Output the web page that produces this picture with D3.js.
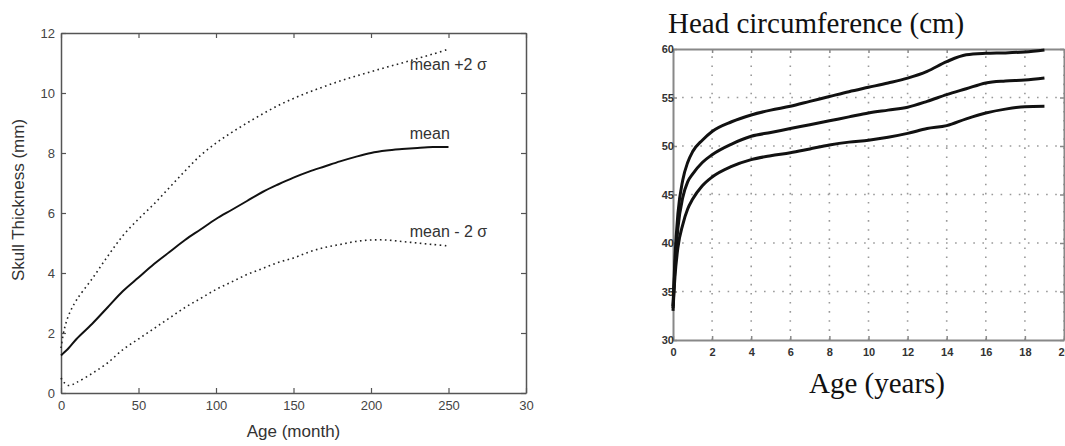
<!DOCTYPE html>
<html>
<head>
<meta charset="utf-8">
<script src="https://cdn.jsdelivr.net/npm/d3@7"></script>
<style>
  body { margin: 0; background: #fff; }
  svg { display: block; }
</style>
</head>
<body>
<div id="chart"></div>
<script>
var width = 1065;
var height = 446;

// skull thickness (left panel), age in months
var ageMonths = [0, 2, 5, 10, 20, 30, 40, 50, 60, 70, 80, 90, 100, 110, 120, 130, 140, 150, 160, 170, 180, 190, 200, 210, 220, 230, 240, 250];
var skullMean = [1.25, 1.35, 1.5, 1.8, 2.3, 2.85, 3.4, 3.85, 4.3, 4.7, 5.1, 5.45, 5.8, 6.1, 6.4, 6.7, 6.95, 7.18, 7.38, 7.55, 7.72, 7.87, 8.0, 8.08, 8.13, 8.17, 8.2, 8.2];
var skullUpper = [1.5, 2.1, 2.6, 3.1, 3.8, 4.55, 5.25, 5.8, 6.3, 6.85, 7.4, 7.92, 8.33, 8.68, 9.0, 9.3, 9.58, 9.82, 10.03, 10.22, 10.4, 10.56, 10.71, 10.86, 11.0, 11.15, 11.3, 11.46];
var skullLower = [0.5, 0.35, 0.25, 0.35, 0.65, 1.0, 1.45, 1.8, 2.15, 2.5, 2.85, 3.15, 3.45, 3.7, 3.95, 4.15, 4.35, 4.5, 4.7, 4.85, 4.95, 5.05, 5.1, 5.1, 5.05, 5.0, 4.95, 4.9];
var monthTicks = [0, 50, 100, 150, 200, 250, 300];
var monthTickLabels = ["0", "50", "100", "150", "200", "250", "30"];
var mmTicks = [0, 2, 4, 6, 8, 10, 12];
var skullLabels = ["mean +2 \u03c3", "mean", "mean - 2 \u03c3"];
var skullLabelAt = [10.77, 8.47, 5.2]; // y value of each label baseline

// head circumference (right panel), age in years
var ageYears = [0, 0.1, 0.25, 0.5, 0.75, 1, 1.5, 2, 3, 4, 5, 6, 7, 8, 9, 10, 11, 12, 13, 14, 15, 16, 17, 18, 19];
var headUpper = [33.5, 38.5, 43, 46.5, 48.3, 49.4, 50.6, 51.5, 52.5, 53.2, 53.7, 54.1, 54.6, 55.1, 55.6, 56.05, 56.5, 57.0, 57.7, 58.7, 59.4, 59.55, 59.6, 59.7, 59.9];
var headMiddle = [33.3, 37.5, 41.5, 44.7, 46.3, 47.1, 48.3, 49.1, 50.2, 51.0, 51.4, 51.8, 52.2, 52.6, 53.0, 53.4, 53.7, 54.0, 54.6, 55.3, 55.9, 56.5, 56.7, 56.8, 57.0];
var headLower = [33, 36.5, 39.5, 41.9, 43.5, 44.5, 45.9, 46.8, 47.9, 48.6, 49.0, 49.3, 49.7, 50.1, 50.4, 50.6, 50.9, 51.3, 51.8, 52.1, 52.8, 53.4, 53.8, 54.05, 54.1];
var yearTicks = [0, 2, 4, 6, 8, 10, 12, 14, 16, 18, 20];
var cmTicks = [30, 35, 40, 45, 50, 55, 60];

var svg = d3.select("#chart")
  .append("svg")
  .attr("width", width)
  .attr("height", height);

/*
LEFT PANEL
 */
var x1 = d3.scaleLinear().domain([0, 300]).range([61, 526]);
var y1 = d3.scaleLinear().domain([0, 12]).range([393, 33]);

var left = svg.append("g").attr("class", "left");
var axisColor = "#555";

// inward ticks on all four sides
left.append("g")
  .attr("transform", "translate(0," + y1(0) + ")")
  .call(d3.axisBottom(x1).tickValues(monthTicks).tickSizeInner(-5).tickSizeOuter(0)
    .tickFormat(function(d, i) { return monthTickLabels[i]; }))
  .call(styleAxis, 13, 8);
left.append("g")
  .attr("transform", "translate(0," + y1(12) + ")")
  .call(d3.axisTop(x1).tickValues(monthTicks).tickSizeInner(-5).tickSizeOuter(0).tickFormat(""))
  .call(styleAxis, 13, 0);
left.append("g")
  .attr("transform", "translate(" + x1(0) + ",0)")
  .call(d3.axisLeft(y1).tickValues(mmTicks).tickSizeInner(-5).tickSizeOuter(0))
  .call(styleAxis, 13, 6);
left.append("g")
  .attr("transform", "translate(" + x1(300) + ",0)")
  .call(d3.axisRight(y1).tickValues(mmTicks).tickSizeInner(-5).tickSizeOuter(0).tickFormat(""))
  .call(styleAxis, 13, 0);

function styleAxis(g, size, pad) {
  g.select(".domain").attr("stroke", axisColor).attr("stroke-width", 1.5);
  g.selectAll(".tick line").attr("stroke", axisColor).attr("stroke-width", 1.2);
  g.selectAll(".tick text")
    .attr("fill", "#444")
    .style("font-family", "'Liberation Sans', Arial, sans-serif")
    .style("font-size", size + "px");
  if (pad) {
    g.selectAll(".tick text").each(function() {
      var t = d3.select(this);
      if (t.attr("x") !== null && +t.attr("x") !== 0) t.attr("x", +t.attr("x") < 0 ? -pad : pad);
      if (t.attr("y") !== null && +t.attr("y") !== 0) t.attr("y", +t.attr("y") < 0 ? -pad : pad);
    });
  }
}

var line1 = d3.line()
  .x(function(d) { return x1(d[0]); })
  .y(function(d) { return y1(d[1]); })
  .curve(d3.curveCatmullRom.alpha(0.5));

function zipSeries(xs, ys) {
  return xs.map(function(v, i) { return [v, ys[i]]; });
}

left.append("path")
  .attr("d", line1(zipSeries(ageMonths, skullUpper)))
  .attr("fill", "none")
  .attr("stroke", "#222")
  .attr("stroke-width", 1.6)
  .attr("stroke-dasharray", "1.6,3.4");
left.append("path")
  .attr("d", line1(zipSeries(ageMonths, skullLower)))
  .attr("fill", "none")
  .attr("stroke", "#222")
  .attr("stroke-width", 1.6)
  .attr("stroke-dasharray", "1.6,3.4");
left.append("path")
  .attr("d", line1(zipSeries(ageMonths, skullMean)))
  .attr("fill", "none")
  .attr("stroke", "#111")
  .attr("stroke-width", 2);

left.selectAll("text.curve-label")
  .data(skullLabels)
  .enter()
  .append("text")
  .attr("class", "curve-label")
  .attr("x", x1(225))
  .attr("y", function(d, i) { return y1(skullLabelAt[i]); })
  .attr("fill", "#333")
  .style("font-family", "'Liberation Sans', Arial, sans-serif")
  .style("font-size", "16px")
  .text(function(d) { return d; });

left.append("text")
  .attr("x", (x1(0) + x1(300)) / 2)
  .attr("y", 437)
  .attr("text-anchor", "middle")
  .attr("fill", "#333")
  .style("font-family", "'Liberation Sans', Arial, sans-serif")
  .style("font-size", "17px")
  .text("Age (month)");

left.append("text")
  .attr("transform", "translate(24," + 200 + ") rotate(-90)")
  .attr("text-anchor", "middle")
  .attr("fill", "#333")
  .style("font-family", "'Liberation Sans', Arial, sans-serif")
  .style("font-size", "17px")
  .text("Skull Thickness (mm)");

/*
RIGHT PANEL
 */
var x2 = d3.scaleLinear().domain([0, 20]).range([673, 1064]);
var y2 = d3.scaleLinear().domain([30, 60]).range([340, 49]);

var right = svg.append("g").attr("class", "right");
var gridColor = "#999";

// dotted grid
right.append("g")
  .selectAll("line")
  .data(yearTicks.slice(1))
  .enter()
  .append("line")
  .attr("x1", function(d) { return x2(d); })
  .attr("x2", function(d) { return x2(d); })
  .attr("y1", y2(30))
  .attr("y2", y2(60))
  .attr("stroke", gridColor)
  .attr("stroke-width", 1.6)
  .attr("stroke-dasharray", "1.6,7.5");
right.append("g")
  .selectAll("line")
  .data(cmTicks.slice(1, -1))
  .enter()
  .append("line")
  .attr("x1", x2(0))
  .attr("x2", x2(20))
  .attr("y1", function(d) { return y2(d); })
  .attr("y2", function(d) { return y2(d); })
  .attr("stroke", gridColor)
  .attr("stroke-width", 1.6)
  .attr("stroke-dasharray", "1.6,7.5");

function styleAxis2(g) {
  g.select(".domain").attr("stroke", "#888").attr("stroke-width", 2);
  g.selectAll(".tick line").attr("stroke", "#888").attr("stroke-width", 1.5);
  g.selectAll(".tick text")
    .attr("fill", "#333")
    .style("font-family", "'Liberation Sans', Arial, sans-serif")
    .style("font-weight", "bold")
    .style("font-size", "11px");
}

right.append("g")
  .attr("transform", "translate(0," + y2(30) + ")")
  .call(d3.axisBottom(x2).tickValues(yearTicks).tickSizeInner(-4).tickSizeOuter(0).tickPadding(8))
  .call(styleAxis2);
right.append("g")
  .attr("transform", "translate(0," + y2(60) + ")")
  .call(d3.axisTop(x2).tickValues(yearTicks).tickSizeInner(-4).tickSizeOuter(0).tickFormat(""))
  .call(styleAxis2);
right.append("g")
  .attr("transform", "translate(" + x2(0) + ",0)")
  .call(d3.axisLeft(y2).tickValues(cmTicks).tickSizeInner(-4).tickSizeOuter(0).tickPadding(-1))
  .call(styleAxis2);
right.append("g")
  .attr("transform", "translate(" + x2(20) + ",0)")
  .call(d3.axisRight(y2).tickValues(cmTicks).tickSizeInner(-4).tickSizeOuter(0).tickFormat(""))
  .call(styleAxis2);

var line2 = d3.line()
  .x(function(d) { return x2(d[0]); })
  .y(function(d) { return y2(d[1]); })
  .curve(d3.curveMonotoneX);

[headUpper, headMiddle, headLower].forEach(function(series) {
  right.append("path")
    .attr("d", line2(zipSeries(ageYears, series)))
    .attr("fill", "none")
    .attr("stroke", "#111")
    .attr("stroke-width", 3)
    .attr("stroke-linejoin", "round");
});

right.append("text")
  .attr("x", 668)
  .attr("y", 33)
  .attr("fill", "#111")
  .style("font-family", "'Liberation Serif', 'Times New Roman', serif")
  .style("font-size", "29px")
  .text("Head circumference (cm)");

right.append("text")
  .attr("x", 877)
  .attr("y", 393)
  .attr("text-anchor", "middle")
  .attr("fill", "#111")
  .style("font-family", "'Liberation Serif', 'Times New Roman', serif")
  .style("font-size", "29px")
  .text("Age (years)");
</script>
</body>
</html>
